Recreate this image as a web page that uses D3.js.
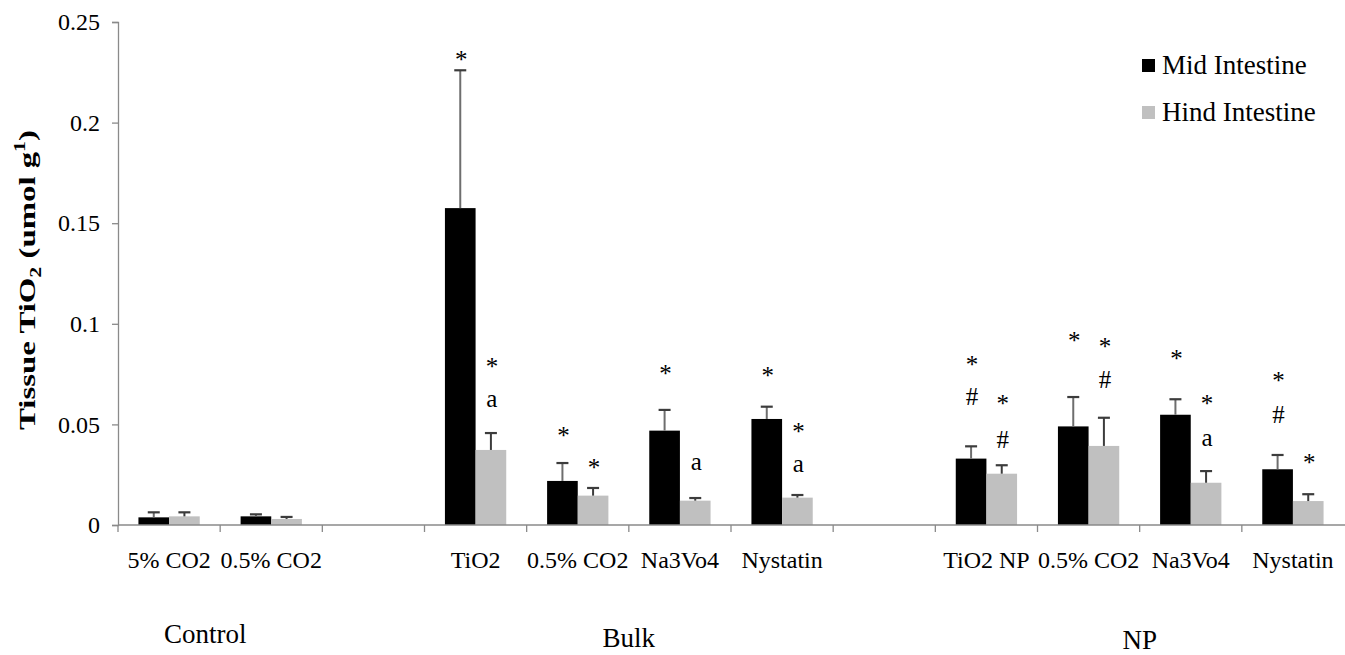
<!DOCTYPE html>
<html>
<head>
<meta charset="utf-8">
<script src="https://cdn.jsdelivr.net/npm/d3@7"></script>
<style>
  html, body { margin: 0; padding: 0; background: #fff; }
  svg text { font-family: 'Liberation Serif', 'Times New Roman', Tinos, 'DejaVu Serif', serif !important; }
</style>
</head>
<body>
<svg id="chart" width="1345" height="655"></svg>
<script>
// Treatment slots along the x axis (blank slots separate the groups)
const categories = ["5% CO2", "0.5% CO2", "", "TiO2", "0.5% CO2", "Na3Vo4", "Nystatin", "", "TiO2 NP", "0.5% CO2", "Na3Vo4", "Nystatin"];
const groupNames = ["Control", "Bulk", "NP"];
const groupSlots = [[0, 1], [3, 6], [8, 11]];
const seriesNames = ["Mid Intestine", "Hind Intestine"];

// Tissue TiO2 (umol g-1), mean and upper error
const midMean  = [0.0038, 0.0043, null, 0.1575, 0.0219, 0.0469, 0.0527, null, 0.0330, 0.0490, 0.0548, 0.0277];
const midErr   = [0.0025, 0.0010, null, 0.0685, 0.0089, 0.0103, 0.0061, null, 0.0061, 0.0146, 0.0077, 0.0071];
const hindMean = [0.0043, 0.0030, null, 0.0373, 0.0146, 0.0121, 0.0136, null, 0.0255, 0.0393, 0.0210, 0.0119];
const hindErr  = [0.0020, 0.0010, null, 0.0084, 0.0038, 0.0013, 0.0013, null, 0.0042, 0.0140, 0.0058, 0.0034];

// Significance marks above each bar and the value level they sit at
const midMarks   = [[], [], [], ["*"], ["*"], ["*"], ["*"], [], ["*", "#"], ["*"], ["*"], ["*", "#"]];
const midMarkAt  = [[], [], [], [0.2328], [0.0459], [0.0770], [0.0757], [], [0.0812, 0.0638], [0.0931], [0.0845], [0.0732, 0.0547]];
const hindMarks  = [[], [], [], ["*", "a"], ["*"], ["a"], ["*", "a"], [], ["*", "#"], ["*", "#"], ["*", "a"], ["*"]];
const hindMarkAt = [[], [], [], [0.0805, 0.0613], [0.0303], [0.0303], [0.0482, 0.0290], [], [0.0621, 0.0426], [0.0903, 0.0724], [0.0621, 0.0422], [0.0327]];

const yTicks = [0, 0.05, 0.1, 0.15, 0.2, 0.25];

const colors = { "Mid Intestine": "#000000", "Hind Intestine": "#c0c0c0" };
const axisColor = "#8a8a8a";
const errColor = "#3c3c3c";
const serif = "'Liberation Serif', 'Times New Roman', Tinos, 'DejaVu Serif', serif";

const svg = d3.select("#chart").attr("font-family", serif);
const plot = { left: 118, right: 1344, top: 22, bottom: 525 };

const slotKeys = categories.map((_, i) => i);
const x = d3.scaleBand().domain(slotKeys).range([plot.left, plot.right]).paddingInner(0).paddingOuter(0);
const x1 = d3.scaleBand().domain(seriesNames)
  .range([x.bandwidth() * 0.2, x.bandwidth() * 0.8]).padding(0);
const y = d3.scaleLinear().domain([0, 0.25]).range([plot.bottom, plot.top]);

// y axis
const yAxis = d3.axisLeft(y).tickValues(yTicks).tickSize(6).tickPadding(12)
  .tickFormat(d => d === 0 ? "0" : String(+d.toFixed(2)));
const gy = svg.append("g").attr("transform", `translate(${plot.left},0)`).call(yAxis)
  .attr("font-family", serif).attr("font-size", 24);
gy.select(".domain").attr("stroke", axisColor).attr("stroke-width", 1.3);
gy.selectAll(".tick line").attr("stroke", axisColor).attr("stroke-width", 1.3);
gy.selectAll(".tick text").attr("fill", "#000");

// bars
const rows = [];
categories.forEach((c, i) => {
  if (midMean[i] != null) rows.push({ i, s: "Mid Intestine", v: midMean[i], e: midErr[i], marks: midMarks[i], at: midMarkAt[i] });
  if (hindMean[i] != null) rows.push({ i, s: "Hind Intestine", v: hindMean[i], e: hindErr[i], marks: hindMarks[i], at: hindMarkAt[i] });
});

const bars = svg.append("g").selectAll("g").data(rows).join("g")
  .attr("transform", d => `translate(${x(d.i) + x1(d.s)},0)`);

bars.append("rect")
  .attr("x", 0)
  .attr("width", x1.bandwidth())
  .attr("y", d => y(d.v))
  .attr("height", d => y(0) - y(d.v))
  .attr("fill", d => colors[d.s]);

// upper error bars
const cx = x1.bandwidth() / 2;
bars.append("line")
  .attr("x1", cx).attr("x2", cx)
  .attr("y1", d => y(d.v)).attr("y2", d => y(d.v + d.e))
  .attr("stroke", d => d.s === "Mid Intestine" ? "#6e6e6e" : errColor)
  .attr("stroke-width", 2);
bars.append("line")
  .attr("x1", cx - 6).attr("x2", cx + 6)
  .attr("y1", d => y(d.v + d.e)).attr("y2", d => y(d.v + d.e))
  .attr("stroke", errColor).attr("stroke-width", 2.2);

// significance marks, vertically centred on their level
const glyphShift = { "*": 0.47, "#": 0.34, "a": 0.23 };
bars.each(function (d) {
  const g = d3.select(this);
  d.marks.forEach((m, k) => {
    g.append("text")
      .attr("x", cx + 1)
      .attr("y", y(d.at[k]) + glyphShift[m] * 25)
      .attr("text-anchor", "middle")
      .attr("font-size", 25)
      .attr("fill", "#000")
      .text(m);
  });
});

// x axis: baseline and ticks at slot boundaries
const gx = svg.append("g");
gx.append("line")
  .attr("x1", plot.left).attr("x2", plot.right + 1)
  .attr("y1", y(0)).attr("y2", y(0))
  .attr("stroke", axisColor).attr("stroke-width", 1.3);
gx.selectAll("line.tk").data(slotKeys).join("line")
  .attr("class", "tk")
  .attr("x1", k => x(k)).attr("x2", k => x(k))
  .attr("y1", y(0)).attr("y2", y(0) + 7)
  .attr("stroke", axisColor).attr("stroke-width", 1.3);

gx.selectAll("text.cat").data(slotKeys).join("text")
  .attr("class", "cat")
  .attr("x", k => x(k) + x.bandwidth() / 2)
  .attr("y", 568)
  .attr("text-anchor", "middle")
  .attr("font-size", 24)
  .text(k => categories[k]);

// group labels
svg.append("g").selectAll("text").data(groupNames).join("text")
  .attr("x", (g, i) => (x(groupSlots[i][0]) + x(groupSlots[i][1]) + x.bandwidth()) / 2 - (i === 0 ? 15 : 0))
  .attr("y", (g, i) => [643, 647, 649][i])
  .attr("text-anchor", "middle")
  .attr("font-size", 27)
  .text(g => g);

// y axis title
const title = svg.append("text")
  .attr("transform", "translate(35,280) rotate(-90)")
  .attr("text-anchor", "middle")
  .attr("font-size", 24)
  .attr("font-weight", "bold")
  .attr("textLength", 300)
  .attr("lengthAdjust", "spacingAndGlyphs");
title.append("tspan").text("Tissue TiO");
title.append("tspan").attr("dy", 6).attr("font-size", 16).text("2");
title.append("tspan").attr("dy", -6).text(" (umol g");
title.append("tspan").attr("dy", -10).attr("font-size", 16).text("1");
title.append("tspan").attr("dy", 10).text(")");

// legend
const legend = svg.append("g").selectAll("g").data(seriesNames).join("g")
  .attr("transform", (s, i) => `translate(1142,${59 + i * 47})`);
legend.append("rect").attr("width", 13).attr("height", 13).attr("fill", s => colors[s]);
legend.append("text")
  .attr("x", 20).attr("y", 15)
  .attr("font-size", 27)
  .text(s => s);
</script>
</body>
</html>
